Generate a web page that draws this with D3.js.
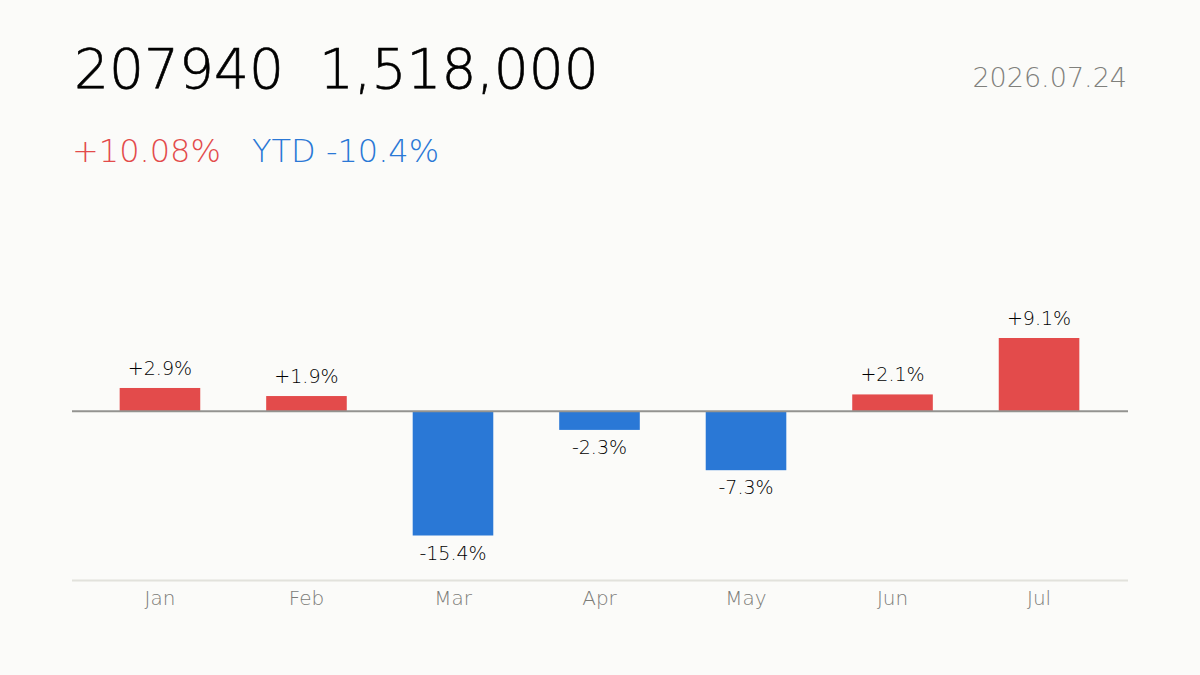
<!DOCTYPE html>
<html>
<head>
<meta charset="utf-8">
<script src="https://cdn.jsdelivr.net/npm/d3@7"></script>
<style>
  body { margin: 0; background: #fbfbf9; }
  text { font-family: "DejaVu Sans", sans-serif; }
</style>
</head>
<body>
<div id="chart"></div>
<script>
// Chart data
var months = ["Jan", "Feb", "Mar", "Apr", "May", "Jun", "Jul"];
var changes = [2.9, 1.9, -15.4, -2.3, -7.3, 2.1, 9.1];
var headerCode = "207940";
var headerPrice = "1,518,000";
var dayChange = "+10.08%";
var ytdChange = "YTD -10.4%";
var dateLabel = "2026.07.24";

var svgWidth = 1200;
var svgHeight = 675;
var red = "#e34b4b";
var blue = "#2a78d6";

var svg = d3.select("#chart")
  .append("svg")
  .attr("width", svgWidth)
  .attr("height", svgHeight);

svg.append("rect")
  .attr("width", svgWidth)
  .attr("height", svgHeight)
  .attr("fill", "#fbfbf9");

// Header
svg.append("text")
  .attr("x", 74).attr("y", 88)
  .attr("font-size", 55)
  .attr("font-weight", 200)
  .attr("fill", "#000")
  .attr("stroke", "#000")
  .attr("stroke-width", 0.6)
  .text(headerCode + "\u00a0\u00a0" + headerPrice);

svg.append("text")
  .attr("x", 1127).attr("y", 87)
  .attr("text-anchor", "end")
  .attr("font-size", 27)
  .attr("font-weight", 200)
  .attr("fill", "#80807c")
  .text(dateLabel);

svg.append("text")
  .attr("x", 72).attr("y", 162)
  .attr("font-size", 32)
  .attr("font-weight", 200)
  .attr("fill", red)
  .text(dayChange);

svg.append("text")
  .attr("x", 252).attr("y", 162)
  .attr("font-size", 32)
  .attr("font-weight", 200)
  .attr("fill", blue)
  .text(ytdChange);

// Scales
var x = d3.scaleBand()
  .domain(months)
  .range([86.7, 1112.3])
  .paddingInner(0.45)
  .paddingOuter(0.225);

var y = d3.scaleLinear()
  .domain([d3.min(changes), d3.max(changes)])
  .range([535.5, 338]);

var data = months.map(function(m, i) { return { month: m, value: changes[i] }; });

// Bottom axis line and labels
svg.append("line")
  .attr("x1", 72).attr("x2", 1128)
  .attr("y1", 580.5).attr("y2", 580.5)
  .attr("stroke", "#e2e2dc")
  .attr("stroke-width", 2);

var xAxis = svg.append("g")
  .attr("transform", "translate(0, 581)")
  .call(d3.axisBottom(x).tickSize(0).tickPadding(0));
xAxis.select(".domain").remove();
xAxis.selectAll("text")
  .attr("dy", null)
  .attr("y", 24)
  .attr("font-size", 20)
  .attr("font-weight", 200)
  .attr("font-family", "\"DejaVu Sans\", sans-serif")
  .attr("fill", "#7c7c78");

// Bars
svg.selectAll(".bar")
  .data(data)
  .enter()
  .append("rect")
  .attr("class", "bar")
  .attr("x", d => x(d.month))
  .attr("width", x.bandwidth())
  .attr("y", d => Math.min(y(d.value), y(0)))
  .attr("height", d => Math.abs(y(d.value) - y(0)))
  .attr("fill", d => d.value >= 0 ? red : blue);

// Zero line
svg.append("line")
  .attr("x1", 72).attr("x2", 1128)
  .attr("y1", y(0)).attr("y2", y(0))
  .attr("stroke", "#939390")
  .attr("stroke-width", 2);

// Value labels
svg.selectAll(".val")
  .data(data)
  .enter()
  .append("text")
  .attr("class", "val")
  .attr("x", d => x(d.month) + x.bandwidth() / 2)
  .attr("y", d => d.value >= 0 ? y(d.value) - 13 : y(d.value) + 24)
  .attr("text-anchor", "middle")
  .attr("font-size", 19)
  .attr("font-weight", 200)
  .attr("fill", "#000")
  .text(d => (d.value > 0 ? "+" : "") + d.value.toFixed(1) + "%");
</script>
</body>
</html>
